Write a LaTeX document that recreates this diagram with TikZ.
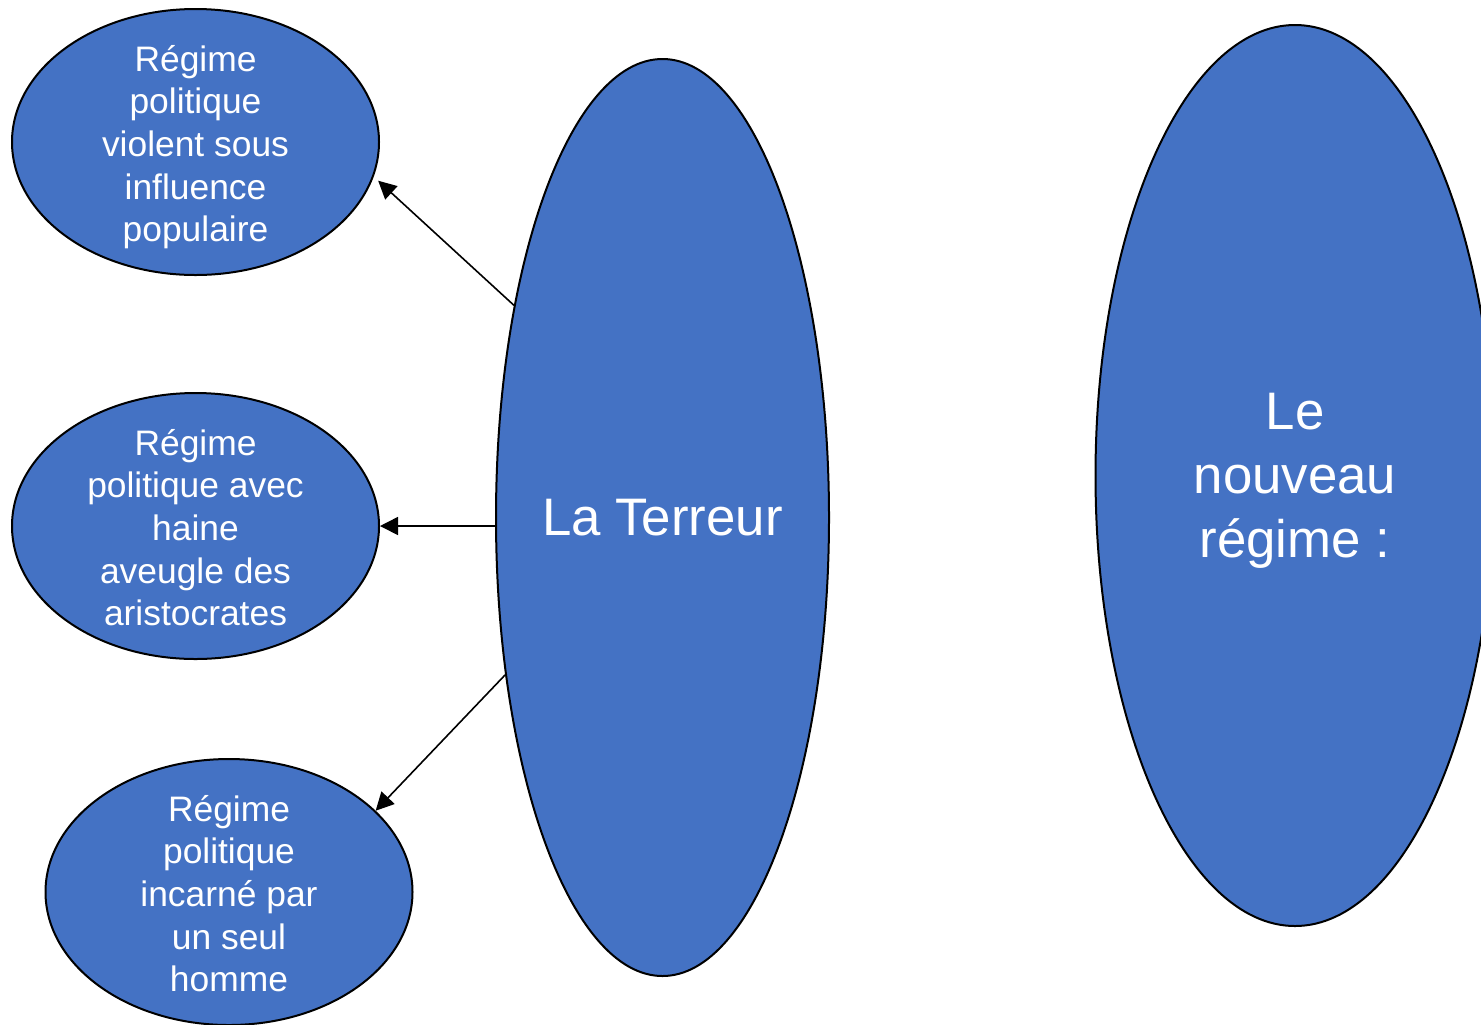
\documentclass[tikz,border=0pt]{standalone}
\usepackage{fontspec}
\setmainfont{Liberation Sans}
\usepackage{xcolor}
\usepackage{tikz}
\usetikzlibrary{shapes.geometric,arrows.meta}
\definecolor{bleu}{HTML}{4472C4}
\tikzstyle{bulle}=[draw, ellipse, fill=bleu, line width=1pt, inner sep=0pt,
  minimum width=183.5pt, minimum height=133pt]
\tikzstyle{grande} = [bulle, inner xsep=-12pt, text=white, align=center,
  text depth=0pt, font=\fontsize{26.4}{32}\selectfont]
\tikzstyle{texte} = [text=white, align=center, text depth=0pt, yshift=-0.75pt,
  font=\fontsize{17.7}{21.3}\selectfont]
\tikzstyle{line} = [draw, line width=0.8pt, -{Triangle[length=9pt,width=9pt]}]
\newcommand{\regime}[2]{node (r#1) [bulle] {} node [texte] {#2}}

\begin{document}
\begin{tikzpicture}[x=0.5pt,y=-0.5pt]
\useasboundingbox (0,0) rectangle (1481,1024);
\clip (0,0) rectangle (1481,1024);

  % Draw diagram elements
\path (662.5,517.5) node (t) [grande, minimum width=166.5pt,
  minimum height=458.5pt] {La Terreur};
\path (t.center)+(632.5,-42) node (n) [grande, minimum width=199.5pt,
  minimum height=450.5pt] {Le\\nouveau\\régime :};

\path (t.center)+(-467,-375.5) \regime{1}{Régime\\politique\\violent sous\\influence\\populaire};
\path (t.center)+(-467,8.5) \regime{2}{Régime\\politique avec\\haine\\aveugle des\\aristocrates};
\path (t.center)+(-433.5,374.5) \regime{3}{Régime\\politique\\incarné par\\un seul\\homme};

  % Draw arrows between elements
\path [line, shorten >=3pt] (t.125.6) -- (r1.-11.2);
\path [line] (t.west |- r2.east) -- (r2.east);
\path [line] (t.225.7) -- (r3.29.1);
\end{tikzpicture}
\end{document}
